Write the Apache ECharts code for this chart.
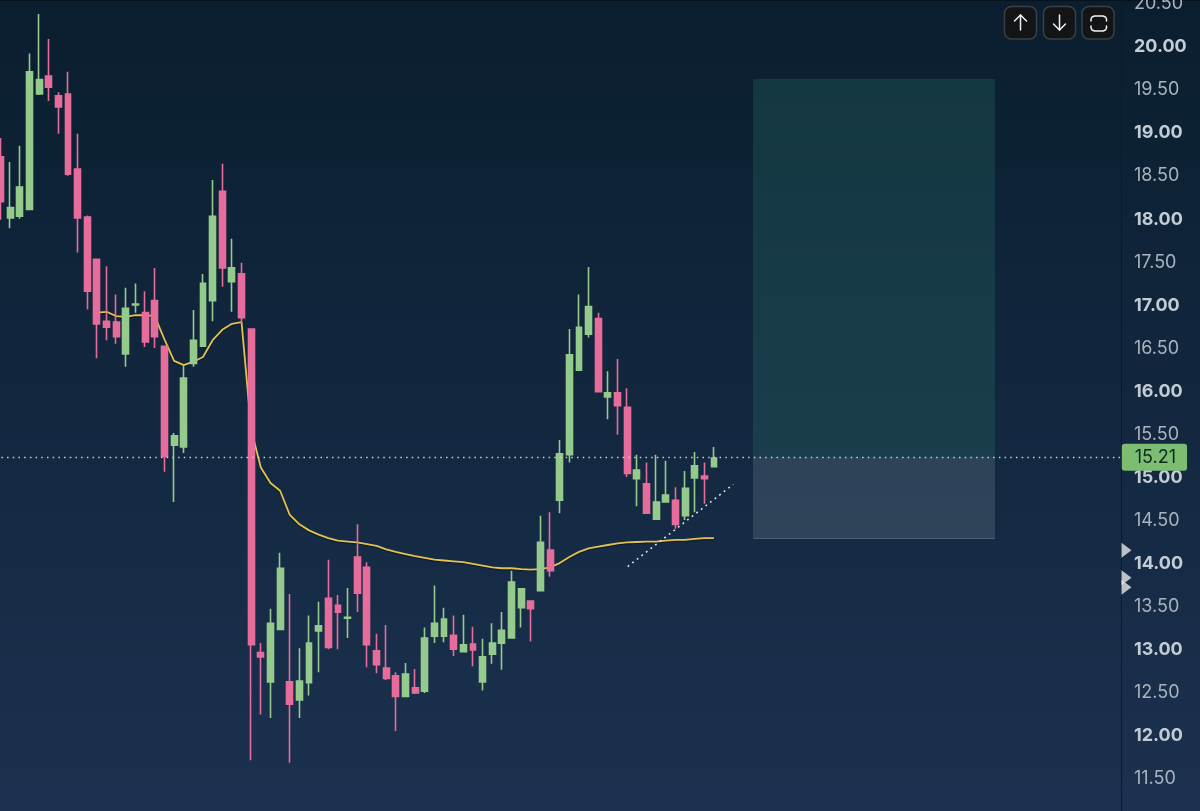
<!DOCTYPE html>
<html><head><meta charset="utf-8">
<style>html,body{margin:0;padding:0;background:#14283f}#c{width:1200px;height:811px}</style>
<script src="https://cdn.jsdelivr.net/npm/echarts@6/dist/echarts.min.js"></script>
</head><body><div id="c"></div>
<script>
const opens=[18.70,17.99,18.01,18.09,19.43,19.64,19.41,19.43,18.56,18.00,
17.51,16.79,16.78,16.41,16.98,16.89,17.03,16.50,15.35,15.33,
16.30,16.50,17.03,18.30,17.25,17.34,16.70,12.94,12.60,13.21,
12.60,12.39,12.59,13.19,13.57,13.49,13.34,14.05,13.93,12.96,
12.76,12.67,12.43,12.53,12.49,13.13,13.13,13.14,12.95,13.04,
12.60,12.92,13.05,13.11,13.46,13.54,13.66,14.13,14.71,15.24,
16.22,16.64,16.82,15.91,15.96,15.79,14.96,14.90,14.49,14.69,
14.71,14.53,14.97,14.99,15.10];
const closes=[18.18,18.11,18.35,19.69,19.60,19.51,19.28,18.50,17.99,17.14,
16.76,16.72,16.61,16.94,16.99,16.55,16.61,15.22,15.46,16.13,
16.57,17.23,18.01,17.41,17.41,16.83,13.03,12.89,13.28,13.92,
12.34,12.61,13.05,13.25,13.00,13.41,13.35,13.63,13.03,12.80,
12.64,12.43,12.69,12.47,13.11,13.28,13.33,12.98,13.03,12.97,
12.89,13.05,13.20,13.76,13.68,13.45,14.22,13.89,15.25,16.40,
16.72,16.96,15.97,15.96,15.81,15.02,15.06,14.56,14.69,14.77,
14.43,14.85,15.11,14.96,15.20];
const lows=[17.97,17.87,17.98,18.09,19.42,19.35,18.97,18.48,17.59,16.93,
16.36,16.57,16.53,16.26,16.89,16.49,16.48,15.04,14.69,15.26,
16.26,16.50,16.79,17.19,16.90,16.77,11.69,12.22,12.18,13.21,
11.66,12.18,12.44,12.71,12.98,12.98,13.11,13.41,12.77,12.70,
12.62,12.03,12.43,12.46,12.47,13.05,13.06,12.90,12.95,12.78,
12.50,12.81,12.74,13.11,13.23,13.07,13.66,13.82,14.56,15.15,
16.22,16.60,15.97,15.65,15.47,14.98,14.64,14.55,14.49,14.69,
14.38,14.48,14.57,14.67,15.09];
const highs=[18.92,18.64,18.83,19.90,20.36,20.07,19.45,19.69,18.97,18.02,
17.51,17.43,17.10,17.18,17.23,17.14,17.41,16.50,15.49,16.28,
16.92,17.34,18.43,18.62,17.75,17.47,16.70,13.05,13.45,14.10,
13.62,12.99,13.37,13.53,14.02,13.61,13.69,14.43,13.99,13.16,
13.26,12.71,12.82,12.75,13.23,13.72,13.46,13.37,13.38,13.24,
13.10,13.28,13.41,13.89,13.69,13.54,14.53,14.57,15.41,16.70,
17.10,17.42,16.89,16.21,16.35,16.01,15.24,15.15,15.24,15.17,
14.86,15.05,15.27,15.15,15.33];
// moving average, from bar 10 to the last bar
const maStartBar=10;
const maValues=[16.89,16.90,16.85,16.84,16.86,16.86,16.85,16.58,16.33,16.28,
16.32,16.375,16.57,16.69,16.76,16.78,15.53,15.09,14.91,14.82,
14.54,14.43,14.36,14.31,14.27,14.24,14.23,14.22,14.20,14.18,
14.14,14.11,14.085,14.06,14.04,14.02,14.01,14.00,13.99,13.97,
13.95,13.93,13.92,13.92,13.91,13.905,13.91,13.93,13.98,14.05,
14.11,14.15,14.17,14.19,14.21,14.22,14.225,14.23,14.23,14.24,
14.25,14.25,14.26,14.27,14.27];
const lastPrice=15.21;
const boxBars=[78.04,103.14];
const boxTop=19.605, boxEntry=15.21, boxStop=14.27;
const trendBars=[65.05,76.0];
const trendPrices=[13.94,14.895];
const alertPrices=[14.13,13.81,13.70];
const alertBar=116.78;
const tickLabels=[11.5,12,12.5,13,13.5,14,14.5,15,15.5,16,16.5,17,17.5,18,18.5,19,19.5,20,20.5];
const barSlots=117;

const categories=Array.from({length:barSlots},(_,i)=>String(i));
const candles=opens.map((o,i)=>[o,closes[i],lows[i],highs[i]]);
const maLine=maValues.map((v,i)=>[i+maStartBar,v]);
const chart=echarts.init(document.getElementById('c'),null,{renderer:'canvas',width:1200,height:811});
const GREEN='#94cb8c',PINK='#e66d9b';
const btn=(x)=>({type:'rect',shape:{x:x,y:6.5,width:32,height:32.5,r:7},style:{fill:'#131415',stroke:'#3b4045',lineWidth:1.5}});
const icon=(pts)=>({type:'polyline',shape:{points:pts},style:{fill:null,stroke:'#f2f2f2',lineWidth:1.5,lineCap:'round',lineJoin:'round'}});
chart.setOption({
  animation:false,
  backgroundColor:{type:'linear',x:0,y:0,x2:0,y2:1,colorStops:[{offset:0,color:'#0a1e2f'},{offset:1,color:'#1b314f'}]},
  grid:{left:-4.32,top:0,width:1128.1,height:811,containLabel:false,outerBoundsMode:'none'},
  xAxis:[
    {type:'category',data:categories,show:false,boundaryGap:true},
    {type:'value',min:-0.5,max:116.5,show:false}
  ],
  yAxis:{type:'value',position:'right',min:11.099,max:20.523,offset:-2.8,
    splitLine:{show:false},axisTick:{show:false},
    axisLine:{show:true,onZero:false,lineStyle:{color:'#0a1a29',width:1}},
    axisLabel:{margin:13,customValues:tickLabels,showMinLabel:true,showMaxLabel:true,
      formatter:v=>{const t=Number(v).toFixed(2);return Number.isInteger(Number(v))?'{b|'+t+'}':'{r|'+t+'}';},
      rich:{b:{fontFamily:'Inter',fontSize:18,fontWeight:'bold',color:'#c3cbd4',padding:[4,0,0,0]},
            r:{fontFamily:'Inter',fontSize:18,fontWeight:'normal',color:'#aab3bd',padding:[4,0,0,0]}}}
  },
  series:[
    {type:'line',name:'MA',xAxisIndex:1,yAxisIndex:0,z:1,data:maLine,showSymbol:false,smooth:false,
      lineStyle:{color:'#e4c24f',width:1.8,shadowColor:'rgba(0,0,0,0.45)',shadowBlur:1,shadowOffsetY:1},
      markArea:{silent:true,data:[
        [{xAxis:boxBars[0],yAxis:boxTop,itemStyle:{color:'rgba(42,115,105,0.29)'}},{xAxis:boxBars[1],yAxis:boxEntry}],
        [{xAxis:boxBars[0],yAxis:boxEntry,itemStyle:{color:'rgba(145,165,175,0.21)'}},{xAxis:boxBars[1],yAxis:boxStop}]
      ]},
      markLine:{silent:true,symbol:'none',animation:false,
        lineStyle:{color:'#cbd6cb',type:[1.5,4.2],width:1.3},
        label:{show:true,position:'end',distance:-2,formatter:lastPrice.toFixed(2),
          backgroundColor:'#7dbd72',color:'#0c2a20',fontFamily:'Inter',fontSize:18,
          padding:[6,11,3,13],borderRadius:3},
        data:[{yAxis:lastPrice},
          [{xAxis:boxBars[0],yAxis:boxStop,lineStyle:{color:'#4a5d70',type:'solid',width:1},label:{show:false}},
           {xAxis:boxBars[1],yAxis:boxStop}]]}
    },
    {type:'candlestick',name:'Price',xAxisIndex:0,yAxisIndex:0,z:3,data:candles,barWidth:6.4,
      itemStyle:{color:GREEN,color0:PINK,borderColor:GREEN,borderColor0:PINK,borderWidth:1.6}},
    {type:'line',name:'Trend',xAxisIndex:1,yAxisIndex:0,z:4,showSymbol:false,
      data:trendBars.map((b,i)=>[b,trendPrices[i]]),
      lineStyle:{color:'#e3e9ec',type:[1.8,4],width:1.6}},
    {type:'scatter',name:'Alerts',xAxisIndex:1,yAxisIndex:0,z:5,clip:false,
      data:alertPrices.map(p=>[alertBar,p]),symbol:'triangle',symbolRotate:-90,symbolSize:[15,10],
      itemStyle:{color:'#e6e7e8'}}
  ],
  graphic:[
    {type:'rect',shape:{x:0,y:0,width:1200,height:1},style:{fill:'#06121c'}},
    btn(1004.5),btn(1043.5),btn(1082),
    icon([[1020.5,30],[1020.5,15]]),icon([[1014.5,21],[1020.5,15],[1026.5,21]]),
    icon([[1059.5,15],[1059.5,30]]),icon([[1053.5,24],[1059.5,30],[1065.5,24]]),
    icon([[1091,21],[1091,19],[1092,17],[1094.5,16],[1103,16],[1105.5,17],[1106.5,19],[1106.5,21]]),
    icon([[1091,26],[1091,28],[1092,30],[1094.5,31],[1103,31],[1105.5,30],[1106.5,28],[1106.5,26]])
  ]
});
</script></body></html>
